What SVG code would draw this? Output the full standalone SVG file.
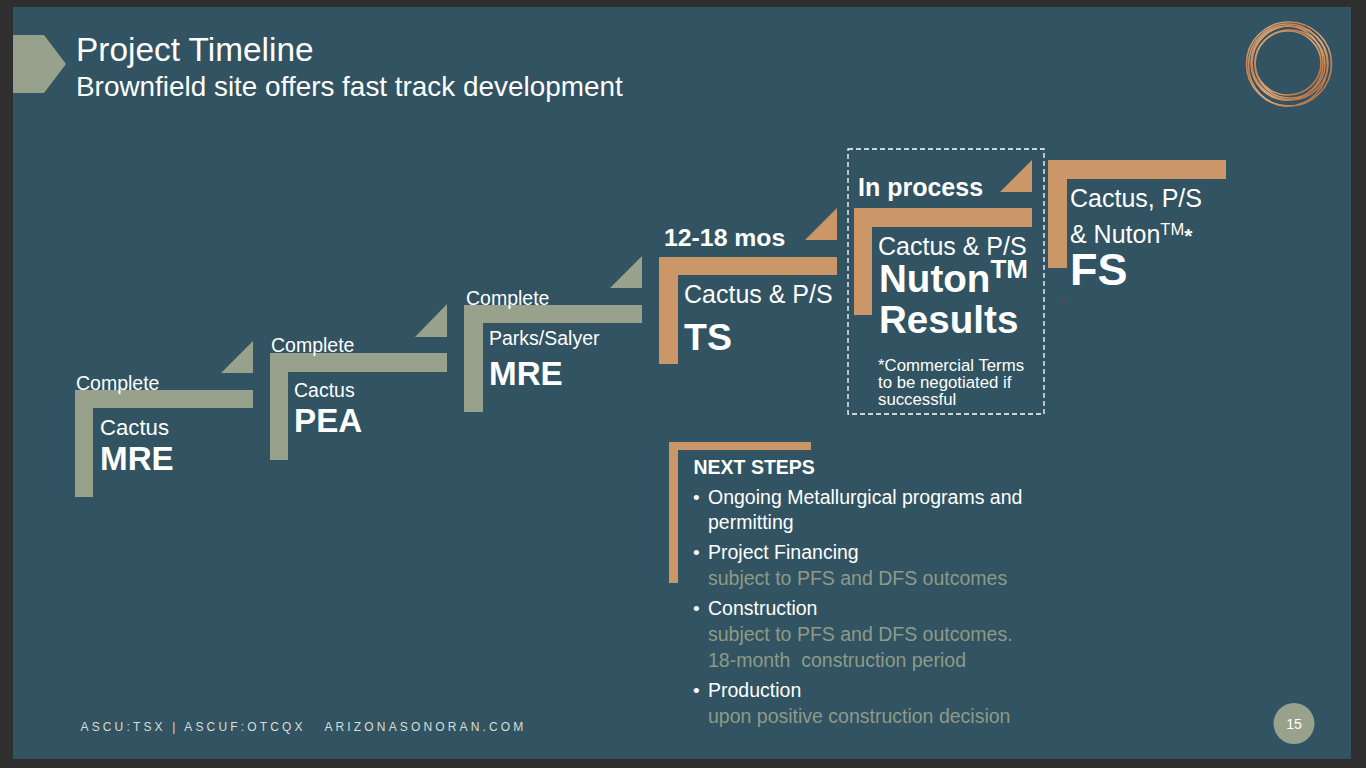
<svg xmlns="http://www.w3.org/2000/svg" width="1366" height="768" viewBox="0 0 1366 768">
<defs>
<linearGradient id="cu" x1="0" y1="0" x2="1" y2="1">
<stop offset="0" stop-color="#dcb48c"/><stop offset="0.3" stop-color="#c9814f"/><stop offset="0.55" stop-color="#dca878"/><stop offset="0.8" stop-color="#c67c4a"/><stop offset="1" stop-color="#a8704e"/>
</linearGradient>
</defs>
<style>
text{font-family:"Liberation Sans",Arial,sans-serif;fill:#fff}
.b{font-weight:bold}
.sage{fill:#98a18b}
.tan{fill:#cc9768}
.ring{fill:none;stroke:url(#cu);stroke-width:1.6}
.s{font-size:19.5px}
.big{font-size:33.2px;font-weight:bold}
.g{fill:#8f9a87;font-size:19.5px}
.c{font-size:16.8px}
.d{font-size:19px}
</style>
<rect width="1366" height="768" fill="#2f2f2f"/>
<rect x="13" y="7" width="1338" height="752" fill="#315362"/>
<polygon class="sage" points="13,35 44,35 66,64 44,93 13,93"/>
<text x="76" y="61" font-size="33.400">Project Timeline</text>
<text x="76" y="96" font-size="27.900">Brownfield site offers fast track development</text>
<g id="logo">
<ellipse class="ring" cx="1289" cy="64" rx="42.500" ry="42"/>
<ellipse class="ring" cx="1288" cy="65" rx="39.500" ry="41"/>
<ellipse class="ring" cx="1290" cy="63" rx="38" ry="37"/>
<ellipse class="ring" cx="1287" cy="63" rx="36" ry="37"/>
<ellipse class="ring" cx="1288" cy="63" rx="33" ry="32"/>
<ellipse class="ring" cx="1290" cy="64" rx="35" ry="34" stroke-width="2.600"/>
</g>
<g id="step1">
<polygon class="sage" points="75,390 253,390 253,408 93,408 93,497 75,497"/>
<polygon class="sage" points="221,373 253,341 253,373"/>
<text x="76" y="390" class="s">Complete</text>
<text x="100" y="435" font-size="22.200">Cactus</text>
<text x="100" y="470" class="big">MRE</text>
</g>
<g id="step2">
<polygon class="sage" points="270,353 447,353 447,372 288,372 288,460 270,460"/>
<polygon class="sage" points="415,337 447,304 447,337"/>
<text x="271" y="352" class="s">Complete</text>
<text x="294" y="397" class="s">Cactus</text>
<text x="294" y="432" class="big">PEA</text>
</g>
<g id="step3">
<polygon class="sage" points="464,305 642,305 642,323 483,323 483,412 464,412"/>
<polygon class="sage" points="610,288 642,256 642,288"/>
<text x="466" y="305" class="s">Complete</text>
<text x="489" y="345" class="s">Parks/Salyer</text>
<text x="489" y="385" class="big">MRE</text>
</g>
<g id="step4">
<polygon class="tan" points="659,257 837,257 837,275 678,275 678,364 659,364"/>
<polygon class="tan" points="805,240 837,208 837,240"/>
<text x="664" y="246" font-size="24.800" class="b">12-18 mos</text>
<text x="684" y="303" font-size="25">Cactus &amp; P/S</text>
<text x="684" y="350" font-size="37.500" class="b">TS</text>
</g>
<g id="step5">
<rect x="848" y="149" width="196" height="265" fill="none" stroke="#fff" stroke-width="1.300" stroke-dasharray="5 3"/>
<polygon class="tan" points="854,208 1032,208 1032,227 872,227 872,315 854,315"/>
<polygon class="tan" points="1000,192 1032,160 1032,192"/>
<text x="858" y="196" font-size="25" class="b">In process</text>
<text x="878" y="255" font-size="25">Cactus &amp; P/S</text>
<text x="879" y="292" font-size="38.600" class="b">Nuton<tspan font-size="26" dy="-14">TM</tspan></text>
<text x="879" y="333" font-size="38.600" class="b">Results</text>
<text x="878" y="371" class="c">*Commercial Terms</text>
<text x="878" y="388" class="c">to be negotiated if</text>
<text x="878" y="405" class="c">successful</text>
</g>
<g id="step6">
<polygon class="tan" points="1048,160 1226,160 1226,179 1067,179 1067,268 1048,268"/>
<text x="1070" y="207" font-size="25">Cactus, P/S</text>
<text x="1070" y="243" font-size="25">&amp; Nuton<tspan font-size="16.500" dy="-8">TM</tspan><tspan dy="8" font-size="21" class="b">*</tspan></text>
<text x="1070" y="285" font-size="45" class="b">FS</text>
<rect x="1063" y="301" width="2" height="2" fill="#b02a30"/>
</g>
<g id="next-steps">
<polygon class="tan" points="669,442 811,442 811,450 678,450 678,583 669,583"/>
<text x="693.500" y="474" class="b s">NEXT STEPS</text>
<text x="693" y="504" class="d">•</text><text x="708" y="504" class="s">Ongoing Metallurgical programs and</text>
<text x="708" y="529" class="s">permitting</text>
<text x="693" y="559" class="d">•</text><text x="708" y="559" class="s">Project Financing</text>
<text x="708" y="585" class="g">subject to PFS and DFS outcomes</text>
<text x="693" y="615" class="d">•</text><text x="708" y="615" class="s">Construction</text>
<text x="708" y="641" class="g">subject to PFS and DFS outcomes.</text>
<text x="708" y="667" class="g" xml:space="preserve">18-month  construction period</text>
<text x="693" y="697" class="d">•</text><text x="708" y="697" class="s">Production</text>
<text x="708" y="723" class="g">upon positive construction decision</text>
</g>
<text x="80.500" y="731" font-size="12" letter-spacing="3.150" style="fill:#d9ddd3" xml:space="preserve">ASCU:TSX | ASCUF:OTCQX   ARIZONASONORAN.COM</text>
<g id="page">
<circle cx="1294" cy="723.500" r="20.500" class="sage"/>
<text x="1294" y="729" font-size="14" text-anchor="middle">15</text>
</g>
</svg>
